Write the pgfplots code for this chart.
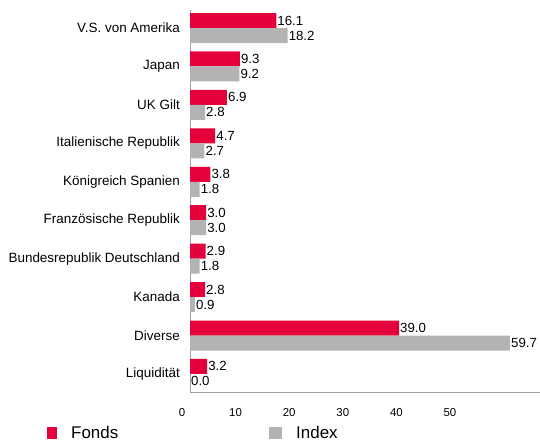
\documentclass[border=0pt]{standalone}
\usepackage{pgfplots}
\pgfplotsset{compat=1.18}
\usepackage{fontspec}
\setmainfont{Liberation Sans}
\definecolor{fondsred}{HTML}{E4003A}
\definecolor{indexgray}{HTML}{B3B3B3}
\definecolor{axgray}{HTML}{A0A0A0}
\begin{document}
\begin{tikzpicture}
\useasboundingbox (0,0) rectangle (540bp,441bp);
\begin{axis}[
  at={(190bp,49bp)}, anchor=south west,
  scale only axis, width=350bp, height=382bp,
  xbar, bar width=15bp,
  xmin=0, xmax=65.3,
  ymin=-0.47, ymax=9.47,
  axis lines*=left,
  axis line style={axgray, line width=0.8bp},
  major tick length=0pt,
  xtick={0,10,20,30,40,50},
  ytick={0,1,2,3,4,5,6,7,8,9},
  yticklabels={Liquidität,Diverse,Kanada,Bundesrepublik Deutschland,Französische Republik,Königreich Spanien,Italienische Republik,UK Gilt,Japan,V.S. von Amerika},
  /pgf/number format/assume math mode=true,
  xticklabel style={font=\fontsize{11.5}{13}\selectfont, xshift=-8bp, yshift=-13bp},
  yticklabel style={font=\fontsize{13.5}{15}\selectfont, inner sep=0pt, xshift=-10bp},
  nodes near coords,
  nodes near coords style={font=\fontsize{13.3}{15}\selectfont, anchor=west, inner sep=1bp, /pgf/number format/.cd, fixed, precision=1, zerofill},
  legend columns=2,
  legend style={at={(rel axis cs:0,0)}, anchor=west, xshift=-143bp, yshift=-41bp, draw=none, fill=none, font=\fontsize{17}{18}\selectfont, inner sep=0pt,
    /tikz/every odd column/.append style={column sep=12bp},
    /tikz/every even column/.append style={column sep=149bp}},
  legend cell align=left,
]
\addplot[fill=fondsred, draw=none, bar shift=7.5bp,
  legend image code/.code={\fill[fondsred] (0bp,-6bp) rectangle (10bp,6bp);}]
  coordinates {(3.2,0) (39.0,1) (2.8,2) (2.9,3) (3.0,4) (3.8,5) (4.7,6) (6.9,7) (9.3,8) (16.1,9)};
\addlegendentry{Fonds}
\addplot[fill=indexgray, draw=none, bar shift=-7.5bp,
  legend image code/.code={\fill[indexgray] (0bp,-6bp) rectangle (13bp,6bp);}]
  coordinates {(0.0,0) (59.7,1) (0.9,2) (1.8,3) (3.0,4) (1.8,5) (2.7,6) (2.8,7) (9.2,8) (18.2,9)};
\addlegendentry{Index}
\end{axis}
\end{tikzpicture}
\end{document}
